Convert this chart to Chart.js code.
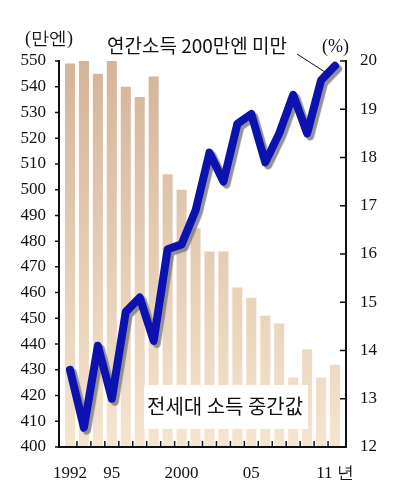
<!DOCTYPE html>
<html>
<head>
<meta charset="utf-8">
<script src="https://cdn.jsdelivr.net/npm/chart.js@4"></script>
<style>
  html, body { margin: 0; padding: 0; background: #fff; }
  #wrap { width: 395px; height: 490px; position: relative; }
</style>
</head>
<body>
<div id="wrap"><canvas id="chart"></canvas></div>
<script>
// years 1992 .. 2011
const years = ['1992','1993','1994','1995','1996','1997','1998','1999','2000','2001',
               '2002','2003','2004','2005','2006','2007','2008','2009','2010','2011'];
const yearLabels = {'1992':'1992', '1995':'95', '2000':'2000', '2005':'05', '2011':'11 년'};
// median household income (만엔)
const medianIncome = [549, 550, 545, 550, 540, 536, 544, 506, 500, 485,
                      476, 476, 462, 458, 451, 448, 427, 438, 427, 432];
// share of households under 2M yen (%)
const under200 = [13.6, 12.4, 14.1, 13.0, 14.8, 15.1, 14.2, 16.1, 16.2, 16.9,
                  18.1, 17.5, 18.7, 18.9, 17.9, 18.5, 19.3, 18.5, 19.6, 19.9];

const serif = '"Liberation Serif", "DejaVu Serif", serif';
const sans = '"Noto Sans CJK KR", "Noto Sans", sans-serif';
const gap = 4; // space between axis line and the first / last bar

// gradient for the bars
function barFill(context){
    const chart = context.chart;
    const area = chart.chartArea;
    if (!area) return '#e2c8ae';
    const g = chart.ctx.createLinearGradient(0, area.top, 0, area.bottom);
    g.addColorStop(0, '#d4b49a');
    g.addColorStop(1, '#f5e5cf');
    return g;
}

// shadow under the blue line
const lineShadow = {
    id: 'lineShadow',
    beforeDatasetDraw(chart, args){
        if (args.index == 1){
            chart.ctx.save();
            chart.ctx.shadowColor = 'rgba(120,120,120,0.8)';
            chart.ctx.shadowOffsetX = 3;
            chart.ctx.shadowOffsetY = 3;
            chart.ctx.shadowBlur = 1;
        }
    },
    afterDatasetDraw(chart, args){
        if (args.index == 1) chart.ctx.restore();
    }
};

// axis lines, ticks and the text labels
const decorations = {
    id: 'decorations',
    afterDraw(chart){
        const ctx = chart.ctx;
        const a = chart.chartArea;
        const x = chart.scales.x;
        const yl = chart.scales.y;
        const yr = chart.scales.y1;
        const L = a.left - gap, R = a.right + gap;
        ctx.save();
        ctx.strokeStyle = '#111';
        ctx.lineWidth = 2;
        ctx.beginPath();
        ctx.moveTo(L, a.top - 1);
        ctx.lineTo(L, a.bottom);
        ctx.lineTo(R, a.bottom);
        ctx.lineTo(R, a.top - 1);
        ctx.stroke();
        // short marks between bars
        ctx.lineWidth = 1.5;
        ctx.beginPath();
        for (let i = 1; i < years.length; i++){
            const px = (x.getPixelForValue(i - 1) + x.getPixelForValue(i)) / 2;
            ctx.moveTo(px, a.bottom);
            ctx.lineTo(px, a.bottom - 6);
        }
        yl.ticks.forEach(t => {
            const py = yl.getPixelForValue(t.value);
            ctx.moveTo(L - 4, py); ctx.lineTo(L, py);
        });
        yr.ticks.forEach(t => {
            const py = yr.getPixelForValue(t.value);
            ctx.moveTo(R - 6, py); ctx.lineTo(R, py);
        });
        ctx.stroke();

        ctx.fillStyle = '#111';
        ctx.textBaseline = 'middle';
        ctx.textAlign = 'left';
        ctx.font = '18px ' + serif;
        ctx.fillText('(만엔)', 25, 39);
        ctx.fillText('(%)', 322, 47);

        ctx.font = '19px ' + sans;
        ctx.fillText('연간소득 200만엔 미만', 107, 46);
        ctx.lineWidth = 1;
        ctx.beginPath();
        ctx.moveTo(297, 54);
        ctx.lineTo(325, 72);
        ctx.stroke();

        // label box for the bars
        ctx.fillStyle = '#fff';
        ctx.fillRect(144, 385, 164, 44);
        ctx.fillStyle = '#111';
        ctx.font = '20px ' + sans;
        ctx.fillText('전세대 소득 중간값', 147, 406);
        ctx.restore();
    }
};

const ctx = document.getElementById('chart');
const myChart = new Chart(ctx, {
    data: {
        labels: years,
        datasets: [{
            type: 'bar',
            label: '전세대 소득 중간값',
            data: medianIncome,
            yAxisID: 'y',
            backgroundColor: barFill,
            borderWidth: 0,
            categoryPercentage: 1.0,
            barPercentage: 0.72,
            order: 2
        }, {
            type: 'line',
            label: '연간소득 200만엔 미만',
            data: under200,
            yAxisID: 'y1',
            borderColor: '#0c12b0',
            borderWidth: 8,
            borderJoinStyle: 'round',
            borderCapStyle: 'round',
            pointRadius: 0,
            tension: 0,
            order: 1
        }]
    },
    options: {
        responsive: true,
        maintainAspectRatio: false,
        animation: false,
        layout: { padding: { top: 61, left: 0, right: 0, bottom: 0 } },
        plugins: {
            legend: { display: false },
            tooltip: { enabled: false }
        },
        scales: {
            x: {
                grid: { display: false },
                border: { display: false },
                ticks: {
                    autoSkip: false,
                    maxRotation: 0,
                    color: '#111',
                    padding: 8,
                    font: { family: serif, size: 17 },
                    callback: function(v, i){ return yearLabels[years[i]] || ''; }
                },
                afterFit(scale){ scale.height = 43; }
            },
            y: {
                position: 'left',
                min: 400,
                max: 550,
                grid: { display: false, drawOnChartArea: false },
                border: { display: false },
                ticks: {
                    stepSize: 10,
                    color: '#111',
                    padding: 9,
                    font: { family: serif, size: 17 }
                },
                afterFit(scale){ scale.width = 59 + gap; }
            },
            y1: {
                position: 'right',
                min: 12,
                max: 20,
                grid: { display: false, drawOnChartArea: false },
                border: { display: false },
                ticks: {
                    stepSize: 1,
                    color: '#111',
                    padding: 10,
                    font: { family: serif, size: 17 }
                },
                afterFit(scale){ scale.width = 49 + gap; }
            }
        }
    },
    plugins: [lineShadow, decorations]
});
</script>
</body>
</html>
